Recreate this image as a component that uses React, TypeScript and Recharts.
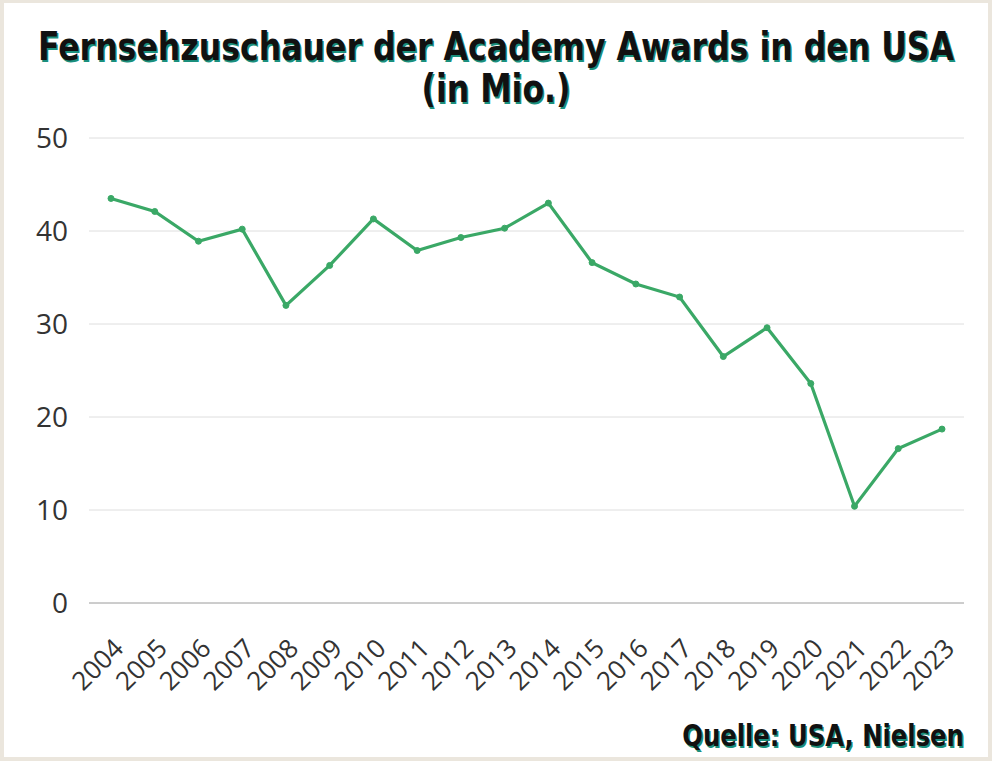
import { LineChart, Line, XAxis, YAxis, CartesianGrid } from "recharts"

const years = [
  "2004", "2005", "2006", "2007", "2008", "2009", "2010", "2011", "2012", "2013",
  "2014", "2015", "2016", "2017", "2018", "2019", "2020", "2021", "2022", "2023",
]
const viewers = [
  43.5, 42.1, 38.9, 40.2, 32.0, 36.3, 41.3, 37.9, 39.3, 40.3,
  43.0, 36.6, 34.3, 32.9, 26.5, 29.6, 23.6, 10.4, 16.6, 18.7,
]
const yTicks = [0, 10, 20, 30, 40, 50]

const data = years.map((year, i) => ({ year, viewers: viewers[i] }))

const tickFont = "'Open Sans', 'DejaVu Sans', sans-serif"
const titleFont = "'DejaVu Sans Condensed', 'DejaVu Sans', sans-serif"

function YearTick(props: any) {
  const { x, y, payload } = props
  const ax = x + 14
  const ay = y + 39
  return (
    <text
      x={ax}
      y={ay}
      textAnchor="end"
      transform={`rotate(-45, ${ax}, ${ay})`}
      fill="#333"
      fontSize={26}
      fontFamily={tickFont}
    >
      {payload.value}
    </text>
  )
}

const titleLine = {
  position: "absolute" as const,
  left: -104,
  width: 1200,
  height: 36,
  textAlign: "center" as const,
  whiteSpace: "nowrap" as const,
  fontFamily: titleFont,
  fontWeight: "bold" as const,
  fontSize: 39,
  lineHeight: "36px",
  color: "#111",
  textShadow: "1.5px 1.5px 0 #1a8f7c",
  transform: "scaleX(0.9)",
  transformOrigin: "50% 0",
}

export default function App() {
  return (
    <div
      style={{
        position: "absolute",
        left: 0,
        top: 0,
        width: 992,
        height: 761,
        background: "#ebe6dd",
        overflow: "hidden",
      }}
    >
      <div
        style={{
          position: "absolute",
          left: 4,
          top: 3,
          width: 984,
          height: 754,
          background: "#fff",
        }}
      />
      <div style={{ ...titleLine, top: 29 }}>
        Fernsehzuschauer der Academy Awards in den USA
      </div>
      <div style={{ ...titleLine, top: 71 }}>(in Mio.)</div>
      <div style={{ position: "absolute", left: 0, top: 0 }}>
        <LineChart
          width={992}
          height={761}
          data={data}
          margin={{ top: 138, right: 28, bottom: 78, left: 0 }}
        >
          <CartesianGrid vertical={false} stroke="#dedede" />
          <XAxis
            dataKey="year"
            height={80}
            padding={{ left: 22, right: 22 }}
            tickLine={false}
            axisLine={{ stroke: "#aaaaaa" }}
            tick={<YearTick />}
            interval={0}
          />
          <YAxis
            width={89}
            domain={[0, 50]}
            ticks={yTicks}
            axisLine={false}
            tickLine={false}
            tickMargin={15}
            tick={{ fill: "#333", fontSize: 28, fontFamily: tickFont }}
          />
          <Line
            type="linear"
            dataKey="viewers"
            stroke="#3aa866"
            strokeWidth={3.2}
            dot={{ r: 3, fill: "#3aa866", stroke: "#3aa866", strokeWidth: 1 }}
            isAnimationActive={false}
          />
        </LineChart>
      </div>
      <div
        style={{
          position: "absolute",
          right: 28,
          top: 720,
          whiteSpace: "nowrap",
          fontFamily: titleFont,
          fontWeight: "bold",
          fontSize: 30,
          lineHeight: "32px",
          color: "#111",
          textShadow: "1.5px 1.5px 0 #1a8f7c",
          transform: "scaleX(0.9)",
          transformOrigin: "100% 0",
        }}
      >
        Quelle: USA, Nielsen
      </div>
    </div>
  )
}
